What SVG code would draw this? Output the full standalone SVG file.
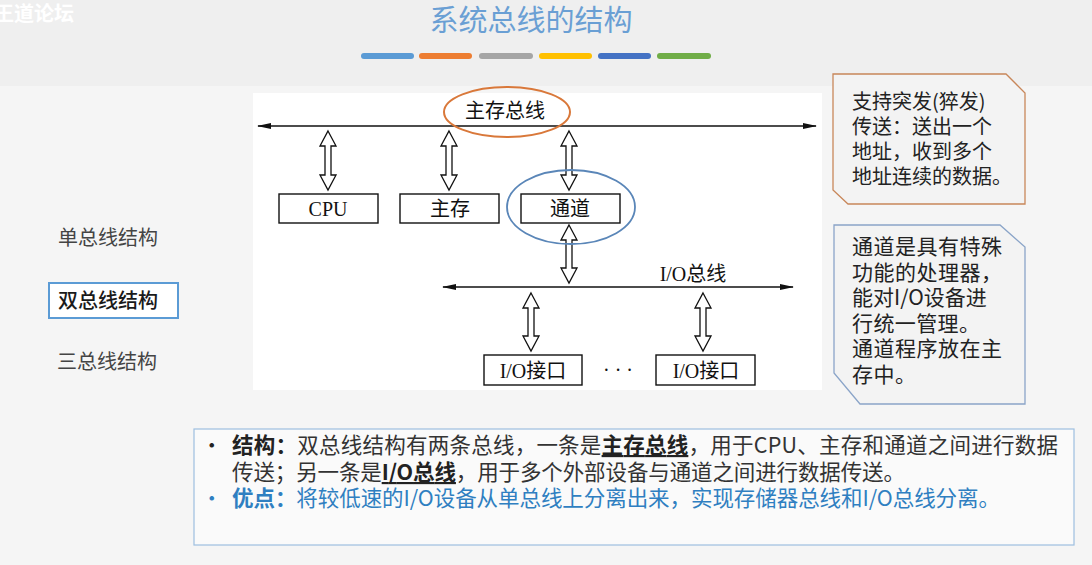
<svg xmlns="http://www.w3.org/2000/svg" width="1092" height="565" viewBox="0 0 1092 565">
<defs>
<style>
.serif{font-family:"Liberation Serif","Noto Sans CJK SC",serif;font-size:20px;fill:#111}
.sans{font-family:"Noto Sans CJK SC","Liberation Sans",sans-serif}
.box{fill:#fff;stroke:#111;stroke-width:1.4}
.harrow{fill:#fff;stroke:#111;stroke-width:1.3;stroke-linejoin:miter}
.bus{stroke:#111;stroke-width:1.4;fill:none;marker-start:url(#ah);marker-end:url(#ah)}
.bar{stroke-width:6;stroke-linecap:round}
</style>
<marker id="ah" viewBox="0 0 14 6" refX="13" refY="3" markerWidth="14" markerHeight="6" markerUnits="userSpaceOnUse" orient="auto-start-reverse">
<path d="M0,0 L14,3 L0,6 Z" fill="#111"/>
</marker>
</defs>
<rect width="1092" height="565" fill="#f5f5f5"/>
<rect width="1092" height="86" fill="#efefef"/>
<g id="watermark"><text x="-6" y="21" class="sans" font-size="20" font-weight="700" fill="#ffffff">王道论坛</text></g>
<g id="title">
<text x="531" y="31" class="sans" font-size="29" fill="#6a9fd4" text-anchor="middle">系统总线的结构</text>
<line class="bar" x1="364" y1="56" x2="411" y2="56" stroke="#5b9bd5"/>
<line class="bar" x1="422" y1="56" x2="469" y2="56" stroke="#ed7d31"/>
<line class="bar" x1="482" y1="56" x2="530" y2="56" stroke="#a5a5a5"/>
<line class="bar" x1="542" y1="56" x2="589" y2="56" stroke="#ffc000"/>
<line class="bar" x1="601" y1="56" x2="648" y2="56" stroke="#4472c4"/>
<line class="bar" x1="660" y1="56" x2="708" y2="56" stroke="#70ad47"/>
</g>
<g id="menu">
<text x="58" y="245" class="sans" font-size="20" fill="#444">单总线结构</text>
<rect x="49" y="283" width="129" height="35" fill="#ffffff" stroke="#5b9bd5" stroke-width="2"/>
<text x="58" y="308" class="sans" font-size="20" font-weight="500" fill="#1a1a1a">双总线结构</text>
<text x="57" y="369" class="sans" font-size="20" fill="#444">三总线结构</text>
</g>
<rect id="panel" x="253" y="93" width="569" height="297" fill="#ffffff"/>
<g id="connectors">
<line class="bus" x1="258" y1="126" x2="816" y2="126"/>
<line class="bus" x1="443" y1="287" x2="793" y2="287"/>
<path class="harrow" d="M328,131 L336,146 L331,146 L331,175 L336,175 L328,190 L320,175 L325,175 L325,146 L320,146 Z"/>
<path class="harrow" d="M449,131 L457,146 L452,146 L452,175 L457,175 L449,190 L441,175 L446,175 L446,146 L441,146 Z"/>
<path class="harrow" d="M569,131 L577,146 L572,146 L572,175 L577,175 L569,190 L561,175 L566,175 L566,146 L561,146 Z"/>
<path class="harrow" d="M569,225 L577,240 L572,240 L572,268 L577,268 L569,283 L561,268 L566,268 L566,240 L561,240 Z"/>
<path class="harrow" d="M531,293 L539,308 L534,308 L534,336 L539,336 L531,351 L523,336 L528,336 L528,308 L523,308 Z"/>
<path class="harrow" d="M703,293 L711,308 L706,308 L706,336 L711,336 L703,351 L695,336 L700,336 L700,308 L695,308 Z"/>
</g>
<g id="main-bus-label">
<ellipse cx="507" cy="112" rx="63" ry="25" fill="none" stroke="#d9783a" stroke-width="2"/>
<text x="505" y="118" class="serif" text-anchor="middle">主存总线</text>
</g>
<g id="cpu">
<rect class="box" x="279" y="194" width="99" height="29"/>
<text x="328" y="216" class="serif" text-anchor="middle">CPU</text>
</g>
<g id="memory">
<rect class="box" x="400" y="194" width="99" height="29"/>
<text x="450" y="216" class="serif" text-anchor="middle">主存</text>
</g>
<g id="channel">
<rect class="box" x="521" y="194" width="99" height="29"/>
<text x="570" y="216" class="serif" text-anchor="middle">通道</text>
<ellipse cx="571" cy="207" rx="64" ry="37" fill="none" stroke="#5a86b8" stroke-width="1.8"/>
</g>
<g id="io-bus-label">
<text x="693" y="281" class="serif" text-anchor="middle">I/O总线</text>
</g>
<g id="io1">
<rect class="box" x="484" y="355" width="98" height="30"/>
<text x="533" y="378" class="serif" text-anchor="middle">I/O接口</text>
</g>
<g id="dots"><text x="618" y="377" class="serif" font-size="22" text-anchor="middle">· · ·</text></g>
<g id="io2">
<rect class="box" x="656" y="355" width="99" height="30"/>
<text x="706" y="378" class="serif" text-anchor="middle">I/O接口</text>
</g>
<g id="note-burst">
<path d="M833,74 L1006,74 L1025,93 L1025,204 L848,204 L833,190 Z" fill="#f3f3f3" stroke="#c8875a" stroke-width="1.3"/>
<g class="sans" font-size="20" fill="#222">
<text x="852" y="109">支持突发(猝发)</text>
<text x="852" y="134">传送：送出一个</text>
<text x="852" y="159">地址，收到多个</text>
<text x="852" y="184">地址连续的数据。</text>
</g>
</g>
<g id="note-channel">
<path d="M834,225 L1000,225 L1025,247 L1025,404 L860,404 L834,373 Z" fill="#f3f3f3" stroke="#8aa4c8" stroke-width="1.3"/>
<g class="sans" font-size="21" fill="#222">
<text x="852" y="254" textLength="150" lengthAdjust="spacing">通道是具有特殊</text>
<text x="852" y="279.5" textLength="150" lengthAdjust="spacing">功能的处理器，</text>
<text x="852" y="305">能对I/O设备进</text>
<text x="852" y="330.5" textLength="128" lengthAdjust="spacing">行统一管理。</text>
<text x="852" y="356" textLength="150" lengthAdjust="spacing">通道程序放在主</text>
<text x="852" y="381.5" textLength="64" lengthAdjust="spacing">存中。</text>
</g>
</g>
<g id="summary">
<rect x="194" y="429" width="880" height="116" fill="#fafafa" stroke="#9dbfe0" stroke-width="1.2"/>
<g class="sans" font-size="21.5">
<text x="201" y="453" fill="#222">•</text>
<text x="232" y="453" fill="#333" textLength="826" lengthAdjust="spacing"><tspan font-weight="700" fill="#222">结构：</tspan>双总线结构有两条总线，一条是<tspan font-weight="700" fill="#222" text-decoration="underline">主存总线</tspan>，用于CPU、主存和通道之间进行数据</text>
<text x="232" y="480" fill="#333" textLength="673" lengthAdjust="spacing">传送；另一条是<tspan font-weight="700" fill="#222" text-decoration="underline">I/O总线</tspan>，用于多个外部设备与通道之间进行数据传送。</text>
<text x="201" y="506" fill="#2f7fc1">•</text>
<text x="232" y="506" fill="#2f7fc1" textLength="768" lengthAdjust="spacing"><tspan font-weight="700">优点：</tspan>将较低速的I/O设备从单总线上分离出来，实现存储器总线和I/O总线分离。</text>
</g>
</g>
</svg>
